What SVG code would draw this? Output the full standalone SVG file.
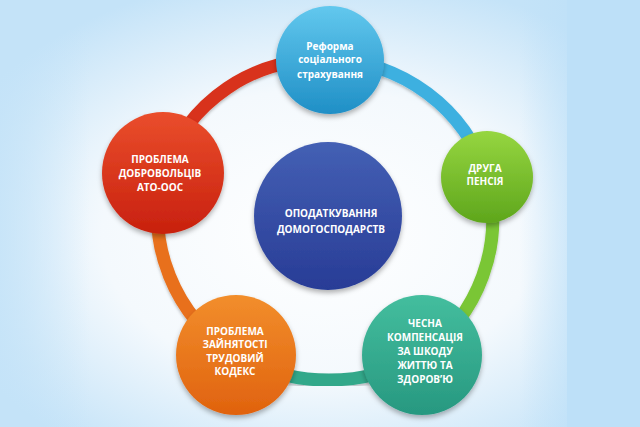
<svg xmlns="http://www.w3.org/2000/svg" width="640" height="427" viewBox="0 0 640 427">
<defs>
<radialGradient id="bg" cx="0.5" cy="0.55" r="0.62">
<stop offset="0" stop-color="#ffffff"/>
<stop offset="0.55" stop-color="#f4f9fd"/>
<stop offset="1" stop-color="#c4e3f8"/>
</radialGradient>
<linearGradient id="bandR" x1="0" y1="0" x2="1" y2="0">
<stop offset="0" stop-color="#bde0f8" stop-opacity="0"/>
<stop offset="1" stop-color="#bde0f8" stop-opacity="1"/>
</linearGradient>
<linearGradient id="bandL" x1="1" y1="0" x2="0" y2="0">
<stop offset="0" stop-color="#c4e3f8" stop-opacity="0"/>
<stop offset="1" stop-color="#c4e3f8" stop-opacity="0.8"/>
</linearGradient>
<linearGradient id="gTop" x1="0" y1="0" x2="0" y2="1">
<stop offset="0" stop-color="#62c8ee"/><stop offset="1" stop-color="#1f8fc6"/>
</linearGradient>
<linearGradient id="gGreen" x1="0" y1="0" x2="0" y2="1">
<stop offset="0" stop-color="#96d640"/><stop offset="1" stop-color="#5ea61c"/>
</linearGradient>
<linearGradient id="gTeal" x1="0" y1="0" x2="0" y2="1">
<stop offset="0" stop-color="#44be9e"/><stop offset="1" stop-color="#279880"/>
</linearGradient>
<linearGradient id="gOrange" x1="0" y1="0" x2="0" y2="1">
<stop offset="0" stop-color="#f28e2c"/><stop offset="1" stop-color="#e0620e"/>
</linearGradient>
<linearGradient id="gRed" x1="0" y1="0" x2="0" y2="1">
<stop offset="0" stop-color="#ea4e2c"/><stop offset="1" stop-color="#c8200e"/>
</linearGradient>
<linearGradient id="gCenter" x1="0" y1="0" x2="0" y2="1">
<stop offset="0" stop-color="#4460b4"/><stop offset="1" stop-color="#283c96"/>
</linearGradient>
<filter id="sh" x="-20%" y="-20%" width="140%" height="150%">
<feDropShadow dx="0" dy="3" stdDeviation="2.5" flood-color="#000" flood-opacity="0.3"/>
</filter>
<filter id="shl" x="-20%" y="-20%" width="140%" height="140%">
<feDropShadow dx="0" dy="2" stdDeviation="1.5" flood-color="#000" flood-opacity="0.25"/>
</filter>
</defs>
<style>
.seg{fill:none;stroke-width:13;filter:url(#shl)}
.node{filter:url(#sh)}
.t{font-family:"Open Sans","DejaVu Sans",sans-serif;font-weight:bold;font-size:10px;fill:#ffffff;text-anchor:middle}
</style>
<rect width="640" height="427" fill="url(#bg)"/>
<rect x="0" y="0" width="90" height="427" fill="url(#bandL)"/>
<rect x="520" y="0" width="47" height="427" fill="url(#bandR)" opacity="0.6"/>
<rect x="567" y="0" width="73" height="427" fill="#bde0f8"/>
<g id="connectors">
<path class="seg" d="M163,173 A165 165 0 0 1 330,60" stroke="#d8321a"/>
<path class="seg" d="M330,60 A168 168 0 0 1 487,177" stroke="#3eb0e0"/>
<path class="seg" d="M487,177 A165 165 0 0 1 422,355" stroke="#7ac634"/>
<path class="seg" d="M422,355 A185 185 0 0 1 236,355" stroke="#33a88a"/>
<path class="seg" d="M236,355 A165 165 0 0 1 163,173" stroke="#e8701c"/>
</g>
<g id="n-center"><circle class="node" cx="328" cy="216" r="74" fill="url(#gCenter)"/>
<text class="t" x="331" y="217">ОПОДАТКУВАННЯ</text><text class="t" x="331" y="233">ДОМОГОСПОДАРСТВ</text></g>
<g id="n-top"><circle class="node" cx="330" cy="60" r="54" fill="url(#gTop)"/>
<text class="t" x="330" y="50">Реформа</text><text class="t" x="330" y="63">соціального</text><text class="t" x="330" y="78">страхування</text></g>
<g id="n-green"><circle class="node" cx="487" cy="177" r="46" fill="url(#gGreen)"/>
<text class="t" x="485" y="172">ДРУГА</text><text class="t" x="485" y="185">ПЕНСІЯ</text></g>
<g id="n-teal"><circle class="node" cx="422" cy="355" r="60" fill="url(#gTeal)"/>
<text class="t" x="425" y="327">ЧЕСНА</text><text class="t" x="425" y="341">КОМПЕНСАЦІЯ</text><text class="t" x="425" y="355">ЗА ШКОДУ</text><text class="t" x="425" y="369">ЖИТТЮ ТА</text><text class="t" x="425" y="383">ЗДОРОВ’Ю</text></g>
<g id="n-orange"><circle class="node" cx="236" cy="355" r="60" fill="url(#gOrange)"/>
<text class="t" x="235" y="335">ПРОБЛЕМА</text><text class="t" x="235" y="348">ЗАЙНЯТОСТІ</text><text class="t" x="235" y="362">ТРУДОВИЙ</text><text class="t" x="235" y="375">КОДЕКС</text></g>
<g id="n-red"><circle class="node" cx="163" cy="173" r="61" fill="url(#gRed)"/>
<text class="t" x="160" y="163">ПРОБЛЕМА</text><text class="t" x="160" y="177">ДОБРОВОЛЬЦІВ</text><text class="t" x="160" y="191">АТО-ООС</text></g>
</svg>
